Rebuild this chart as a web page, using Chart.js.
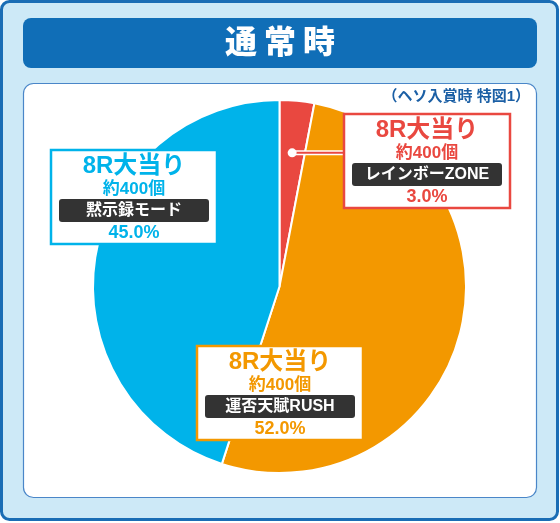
<!DOCTYPE html>
<html lang="ja">
<head>
  <meta charset="UTF-8" />
  <title>通常時</title>
  <script src="https://cdn.jsdelivr.net/npm/chart.js"></script>
  <style>
    * { box-sizing: border-box; margin: 0; padding: 0; }
    body { background: #fff; width: 560px; height: 523px; overflow: hidden; }
    canvas { display: block; }
  </style>
</head>
<body>
  <canvas id="pieChart" width="560" height="523"></canvas>

  <script>
    const title = '通常時';
    const note = '（ヘソ入賞時 特図1）';
    const modes = ['レインボーZONE', '運否天賦RUSH', '黙示録モード'];
    const shares = [3.0, 52.0, 45.0];
    const headLines = ['8R大当り', '8R大当り', '8R大当り'];
    const payouts = ['約400個', '約400個', '約400個'];
    const sliceColors = ['#e94840', '#f39800', '#00b3ea'];

    // latin from Liberation Sans, kanji / kana fall back to Noto CJK
    const font = '"Liberation Sans", "Noto Sans CJK JP", sans-serif';

    function roundRect(ctx, x, y, w, h, r) {
      ctx.beginPath();
      ctx.moveTo(x + r, y);
      ctx.arcTo(x + w, y, x + w, y + h, r);
      ctx.arcTo(x + w, y + h, x, y + h, r);
      ctx.arcTo(x, y + h, x, y, r);
      ctx.arcTo(x, y, x + w, y, r);
      ctx.closePath();
    }

    // frame, title bar and inner panel
    const framePlugin = {
      id: 'frame',
      beforeDraw(chart) {
        const ctx = chart.ctx;
        ctx.save();
        roundRect(ctx, 1.5, 1.5, 556, 518, 8);
        ctx.fillStyle = '#cde9f7';
        ctx.fill();
        ctx.lineWidth = 3;
        ctx.strokeStyle = '#1a6db5';
        ctx.stroke();

        roundRect(ctx, 23, 18, 514, 50, 8);
        ctx.fillStyle = '#106eb7';
        ctx.fill();

        ctx.fillStyle = '#fff';
        ctx.font = '900 32px ' + font;
        ctx.textAlign = 'center';
        ctx.textBaseline = 'middle';
        [...title].forEach((ch, i) => ctx.fillText(ch, 280 + (i - 1) * 39, 44));

        roundRect(ctx, 23.5, 83.5, 513, 414, 10);
        ctx.fillStyle = '#fff';
        ctx.fill();
        ctx.lineWidth = 1.2;
        ctx.strokeStyle = '#4a86c8';
        ctx.stroke();

        ctx.fillStyle = '#1b5fa5';
        ctx.font = 'bold 15px ' + font;
        ctx.textAlign = 'right';
        ctx.fillText(note, 530, 97);
        ctx.restore();
      }
    };

    // label boxes
    const boxes = [
      { x: 344, y: 114 },
      { x: 197, y: 346 },
      { x: 51, y: 150 }
    ];

    const labelPlugin = {
      id: 'labels',
      afterDraw(chart) {
        const ctx = chart.ctx;
        const arcs = chart.getDatasetMeta(0).data;
        ctx.save();

        // leader for the small slice
        const a = arcs[0].getProps(['x', 'y', 'startAngle', 'endAngle', 'outerRadius'], true);
        const mid = (a.startAngle + a.endAngle) / 2;
        const dx = a.x + Math.cos(mid) * a.outerRadius * 0.72;
        const dy = a.y + Math.sin(mid) * a.outerRadius * 0.72;
        ctx.strokeStyle = '#fff';
        ctx.lineWidth = 5;
        ctx.beginPath();
        ctx.moveTo(dx, dy);
        ctx.lineTo(boxes[0].x, dy);
        ctx.stroke();
        ctx.strokeStyle = sliceColors[0];
        ctx.lineWidth = 2;
        ctx.beginPath();
        ctx.moveTo(dx, dy);
        ctx.lineTo(boxes[0].x, dy);
        ctx.stroke();
        ctx.fillStyle = '#fff';
        ctx.beginPath();
        ctx.arc(dx, dy, 4.5, 0, Math.PI * 2);
        ctx.fill();

        ctx.textAlign = 'center';
        ctx.textBaseline = 'middle';
        boxes.forEach((b, i) => {
          const w = 166, h = 94, cx = b.x + w / 2;
          ctx.fillStyle = '#fff';
          ctx.fillRect(b.x, b.y, w, h);
          ctx.lineWidth = 2.5;
          ctx.strokeStyle = sliceColors[i];
          ctx.strokeRect(b.x, b.y, w, h);

          ctx.fillStyle = sliceColors[i];
          ctx.font = 'bold 24px ' + font;
          ctx.fillText(headLines[i], cx, b.y + 16);
          ctx.font = 'bold 17px ' + font;
          ctx.fillText(payouts[i], cx, b.y + 39);

          roundRect(ctx, b.x + 8, b.y + 49, w - 16, 23, 3);
          ctx.fillStyle = '#333';
          ctx.fill();
          ctx.fillStyle = '#fff';
          ctx.font = 'bold 16px ' + font;
          ctx.fillText(modes[i], cx, b.y + 61);

          ctx.fillStyle = sliceColors[i];
          ctx.font = 'bold 18px ' + font;
          ctx.fillText(shares[i].toFixed(1) + '%', cx, b.y + 83);
        });
        ctx.restore();
      }
    };

    new Chart(document.getElementById('pieChart').getContext('2d'), {
      type: 'pie',
      data: {
        labels: modes,
        datasets: [{
          data: shares,
          backgroundColor: sliceColors,
          borderColor: '#fff',
          borderWidth: 2
        }]
      },
      options: {
        responsive: false,
        animation: false,
        layout: { padding: { left: 92, right: 93, top: 99, bottom: 49 } },
        plugins: {
          legend: { display: false },
          tooltip: { enabled: false }
        }
      },
      plugins: [framePlugin, labelPlugin]
    });
  </script>
</body>
</html>
